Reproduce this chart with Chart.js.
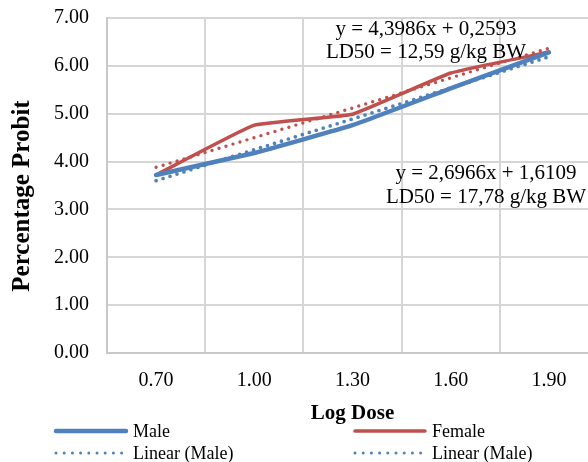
<!DOCTYPE html>
<html>
<head>
<meta charset="utf-8">
<script src="https://cdn.jsdelivr.net/npm/chart.js@4/dist/chart.umd.min.js"></script>
<style>
  html, body { margin: 0; padding: 0; background: #fff; overflow: hidden; }
  #wrap { position: relative; width: 600px; height: 462px; }
</style>
</head>
<body>
<div id="wrap"><canvas id="c" width="600" height="462"></canvas></div>
<script>
// ---- data ----
const categories = ["0.70", "1.00", "1.30", "1.60", "1.90"];
const maleValues = [3.72, 4.18, 4.76, 5.53, 6.28];
const femaleValues = [3.72, 4.76, 4.99, 5.85, 6.29];
const maleTrend = [3.60, 4.25, 4.89, 5.54, 6.19];
const femaleTrend = [3.88, 4.50, 5.12, 5.75, 6.37];
const yTicks = [0, 1, 2, 3, 4, 5, 6, 7];
const femaleEquation = ["y = 4,3986x + 0,2593", "LD50 = 12,59 g/kg BW"];
const maleEquation = ["y = 2,6966x + 1,6109", "LD50 = 17,78 g/kg BW"];
const legendItems = [
  { label: "Male", color: "#4F81BD", dotted: false, width: 4.5 },
  { label: "Female", color: "#C0504D", dotted: false, width: 3.5 },
  { label: "Linear (Male)", color: "#4F81BD", dotted: true, width: 3 },
  { label: "Linear (Male)", color: "#4F81BD", dotted: true, width: 3 }
];

const SERIF = "'Liberation Serif', 'Times New Roman', serif";
const BLUE = "#4F81BD", RED = "#C0504D";

const extras = {
  id: "extras",
  afterDraw(chart) {
    const ctx = chart.ctx;
    ctx.save();
    ctx.fillStyle = "#000";
    // y-axis title
    ctx.save();
    ctx.translate(23, 196);
    ctx.rotate(-Math.PI / 2);
    ctx.font = "bold 25px " + SERIF;
    ctx.textAlign = "center";
    ctx.textBaseline = "middle";
    ctx.fillText("Percentage Probit", 0, 0);
    ctx.restore();
    // trendline equation labels
    ctx.font = "21px " + SERIF;
    ctx.textAlign = "center";
    ctx.textBaseline = "middle";
    ctx.fillText(femaleEquation[0], 426, 29);
    ctx.fillText(femaleEquation[1], 426, 52);
    ctx.fillText(maleEquation[0], 486, 173);
    ctx.fillText(maleEquation[1], 486, 197);
    // legend
    const cols = [56, 355];
    const rows = [431, 453];
    legendItems.forEach((it, i) => {
      const x0 = cols[i % 2], y0 = rows[Math.floor(i / 2)];
      ctx.save();
      ctx.strokeStyle = it.color;
      ctx.lineWidth = it.width;
      ctx.lineCap = "round";
      if (it.dotted) ctx.setLineDash([0, 8.2]);
      ctx.beginPath();
      ctx.moveTo(x0, y0);
      ctx.lineTo(x0 + 70, y0);
      ctx.stroke();
      ctx.restore();
      ctx.font = "18px " + SERIF;
      ctx.textAlign = "left";
      ctx.textBaseline = "middle";
      ctx.fillStyle = "#000";
      ctx.fillText(it.label, x0 + 77, y0 + 1);
    });
    ctx.restore();
  }
};

new Chart(document.getElementById("c"), {
  type: "line",
  data: {
    labels: categories,
    datasets: [
      { label: "Male", data: maleValues, borderColor: BLUE, borderWidth: 4.5, tension: 0.1,
        pointRadius: 0, fill: false, order: 2, borderCapStyle: "round", borderJoinStyle: "round" },
      { label: "Female", data: femaleValues, borderColor: RED, borderWidth: 3.5, tension: 0.1,
        pointRadius: 0, fill: false, order: 2, borderCapStyle: "round", borderJoinStyle: "round" },
      { label: "Linear (Male)", data: maleTrend, borderColor: BLUE, borderWidth: 3.7, tension: 0,
        pointRadius: 0, fill: false, order: 1, borderDash: [0, 7.3], borderCapStyle: "round" },
      { label: "Linear (Female)", data: femaleTrend, borderColor: RED, borderWidth: 3.4, tension: 0,
        pointRadius: 0, fill: false, order: 1, borderDash: [0, 7.3], borderCapStyle: "round" }
    ]
  },
  options: {
    responsive: false,
    animation: false,
    devicePixelRatio: 1,
    layout: { padding: { left: 0, right: 2, top: 18, bottom: 0 } },
    plugins: { legend: { display: false }, tooltip: { enabled: false }, title: { display: false } },
    scales: {
      x: {
        type: "category",
        offset: true,
        grid: { offset: true, color: "#d6d6d6", lineWidth: 2, drawTicks: false },
        border: { color: "#c8c8c8", width: 2 },
        ticks: { color: "#000", font: { family: SERIF, size: 20 }, padding: 16, maxRotation: 0 },
        title: { display: true, text: "Log Dose", color: "#000",
                 font: { family: SERIF, size: 21, weight: "bold" }, padding: { top: 0, bottom: 36 } },
        afterFit(scale) { scale.height = 109; scale.paddingLeft = 0; scale.paddingRight = 0; }
      },
      y: {
        min: 0, max: 7,
        afterBuildTicks(scale) { scale.ticks = yTicks.map(v => ({ value: v })); },
        grid: { color: "#d6d6d6", lineWidth: 2, drawTicks: false },
        border: { color: "#c8c8c8", width: 2 },
        ticks: { color: "#000", font: { family: SERIF, size: 20 }, padding: 18,
                 callback: v => Number(v).toFixed(2) },
        afterFit(scale) { scale.width = 107; scale.paddingTop = 0; scale.paddingBottom = 0; }
      }
    }
  },
  plugins: [extras]
});
</script>
</body>
</html>
